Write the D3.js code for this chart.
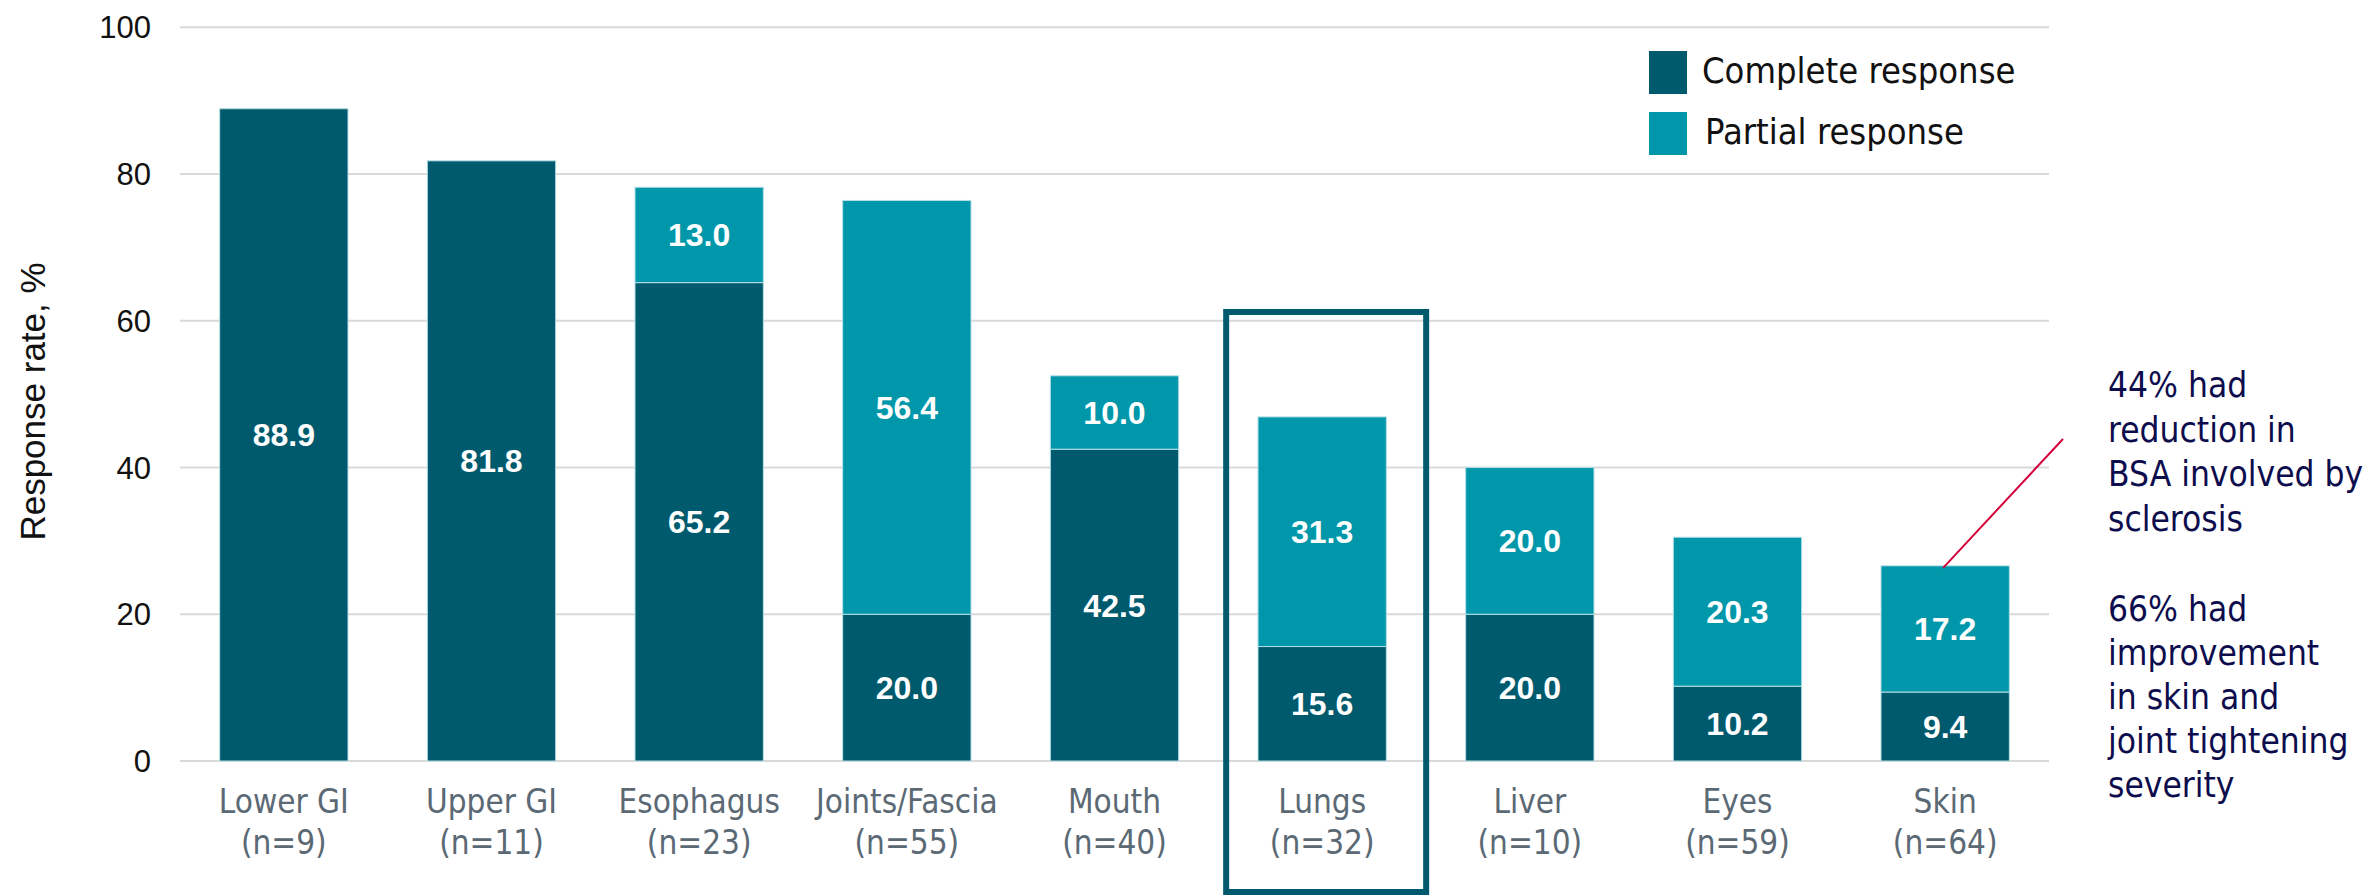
<!DOCTYPE html>
<html>
<head>
<meta charset="utf-8">
<script src="https://cdn.jsdelivr.net/npm/d3@7"></script>
<style>
  body { margin: 0; background: #fff; }
  svg { display: block; }
</style>
</head>
<body>
<div id="chart"></div>
<script>
// data
const organs = ['Lower GI', 'Upper GI', 'Esophagus', 'Joints/Fascia', 'Mouth', 'Lungs', 'Liver', 'Eyes', 'Skin'];
const counts = ['(n=9)', '(n=11)', '(n=23)', '(n=55)', '(n=40)', '(n=32)', '(n=10)', '(n=59)', '(n=64)'];
const complete = [88.9, 81.8, 65.2, 20.0, 42.5, 15.6, 20.0, 10.2, 9.4];
const partial = [0, 0, 13.0, 56.4, 10.0, 31.3, 20.0, 20.3, 17.2];
const yTicks = [0, 20, 40, 60, 80, 100];
const seriesNames = ['Complete response', 'Partial response'];
const highlighted = 'Lungs';
const noteLines1 = ['44% had', 'reduction in', 'BSA involved by', 'sclerosis'];
const noteLines2 = ['66% had', 'improvement', 'in skin and', 'joint tightening', 'severity'];

const width = 2374, height = 895;
const dark = '#005a6e', light = '#0097aa';
const sansFont = '"DejaVu Sans Condensed", "DejaVu Sans", sans-serif';
const arial = '"Liberation Sans", Arial, sans-serif';

const svg = d3.select('#chart').append('svg')
  .attr('width', width).attr('height', height);

const rows = organs.map((o, i) => ({ organ: o, n: counts[i], complete: complete[i], partial: partial[i] }));

const x = d3.scaleBand().domain(organs).range([180, 2049])
  .paddingInner(0.382).paddingOuter(0.191);
const y = d3.scaleLinear().domain([0, 100]).range([761, 27.3]);

// gridlines
svg.append('g').selectAll('line').data(yTicks).join('line')
  .attr('x1', 180).attr('x2', 2049)
  .attr('y1', d => y(d)).attr('y2', d => y(d))
  .attr('stroke', '#d9d9d9').attr('stroke-width', 2);

// y tick labels
svg.append('g').selectAll('text').data(yTicks).join('text')
  .attr('x', 151).attr('y', d => y(d)).attr('dy', '0.36em')
  .attr('text-anchor', 'end')
  .style('font-family', arial).style('font-size', '31px').style('fill', '#111')
  .text(d => d);

svg.append('text')
  .attr('transform', `translate(45, ${y(49)}) rotate(-90)`)
  .attr('text-anchor', 'middle')
  .style('font-family', arial).style('font-size', '35px').style('fill', '#111')
  .text('Response rate, %');

// stacked bars
const stack = d3.stack().keys(['complete', 'partial'])(rows);
const colors = [dark, light];
const layers = svg.append('g').selectAll('g').data(stack).join('g')
  .attr('fill', (d, i) => colors[i]);

layers.selectAll('rect').data(d => d.filter(s => s[1] - s[0] > 0)).join('rect')
  .attr('x', d => x(d.data.organ))
  .attr('width', x.bandwidth())
  .attr('y', d => y(d[1]))
  .attr('height', d => y(d[0]) - y(d[1]))
  .attr('stroke', '#b7dfe6').attr('stroke-width', 1);

layers.selectAll('text').data(d => d.filter(s => s[1] - s[0] > 0)).join('text')
  .attr('x', d => x(d.data.organ) + x.bandwidth() / 2)
  .attr('y', d => y((d[0] + d[1]) / 2))
  .attr('dy', '0.36em')
  .attr('text-anchor', 'middle')
  .style('font-family', arial).style('font-weight', 'bold')
  .style('font-size', '32px').style('fill', '#fff')
  .text(d => (d[1] - d[0]).toFixed(1));

// category labels
const cats = svg.append('g').selectAll('text').data(rows).join('text')
  .attr('text-anchor', 'middle')
  .style('font-family', sansFont).style('font-size', '33px').style('fill', '#5b6975');
cats.append('tspan').attr('x', d => x(d.organ) + x.bandwidth() / 2).attr('y', 813).text(d => d.organ);
cats.append('tspan').attr('x', d => x(d.organ) + x.bandwidth() / 2).attr('y', 854).text(d => d.n);

// highlight box round Lungs
const hx = x(highlighted) + x.bandwidth() / 2;
svg.append('rect')
  .attr('x', hx - 96).attr('y', 312)
  .attr('width', 200).attr('height', 580)
  .attr('fill', 'none').attr('stroke', dark).attr('stroke-width', 6);

// legend
const legend = svg.append('g').selectAll('g').data(seriesNames).join('g')
  .attr('transform', (d, i) => `translate(1649, ${51 + i * 61})`);
legend.append('rect').attr('width', 38).attr('height', 43).attr('fill', (d, i) => colors[i]);
legend.append('text')
  .attr('x', (d, i) => 53 + i * 3).attr('y', 32)
  .style('font-family', sansFont).style('font-size', '36px').style('fill', '#111')
  .text(d => d);

// skin annotation
const skinTop = y(complete[8] + partial[8]);
const sx = x('Skin') + x.bandwidth() / 2;
svg.append('line')
  .attr('x1', sx - 2).attr('y1', skinTop + 2)
  .attr('x2', 2063).attr('y2', 439)
  .attr('stroke', '#d4003a').attr('stroke-width', 2);

const note = svg.append('g')
  .style('font-family', sansFont).style('font-size', '35px').style('fill', '#0d0d4d');
note.selectAll('text.a').data(noteLines1).join('text').attr('class', 'a')
  .attr('x', 2108).attr('y', (d, i) => 397 + i * 44.5).text(d => d);
note.selectAll('text.b').data(noteLines2).join('text').attr('class', 'b')
  .attr('x', 2108).attr('y', (d, i) => 621 + i * 44).text(d => d);
</script>
</body>
</html>
